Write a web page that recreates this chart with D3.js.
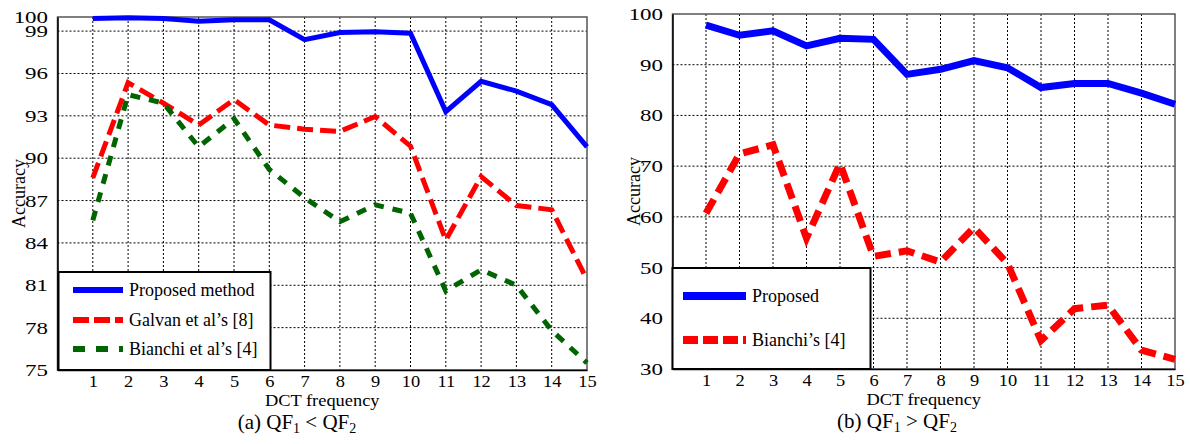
<!DOCTYPE html>
<html>
<head>
<meta charset="utf-8">
<script src="https://cdn.jsdelivr.net/npm/d3@7"></script>
<style>
    body { margin: 0; background: #fff; }
    svg text { font-family: "Liberation Serif", "Times New Roman", "DejaVu Serif", serif; fill: #000; }
</style>
</head>
<body>
<svg id="chart" width="1190" height="444"></svg>
<script>
// DCT frequency index (x axis)
const freqs = [1, 2, 3, 4, 5, 6, 7, 8, 9, 10, 11, 12, 13, 14, 15];

// (a) QF1 < QF2
const leftProposed = [99.9, 99.95, 99.9, 99.7, 99.8, 99.8, 98.4, 98.9, 98.95, 98.85, 93.3, 95.45, 94.75, 93.8, 90.8];
const leftGalvan = [88.6, 95.35, 93.9, 92.35, 94.15, 92.35, 92.05, 91.9, 92.95, 90.85, 84.2, 88.7, 86.65, 86.35, 81.4];
const leftBianchi = [85.6, 94.5, 93.9, 90.8, 92.8, 89.2, 87.2, 85.5, 86.7, 86.1, 80.6, 82.1, 81.0, 77.8, 75.5];
const leftYTicks = [75, 78, 81, 84, 87, 90, 93, 96, 99, 100];

// (b) QF1 > QF2
const rightProposed = [97.8, 95.8, 96.7, 93.7, 95.2, 95.0, 88.1, 89.1, 90.8, 89.4, 85.5, 86.3, 86.3, 84.4, 82.2];
const rightBianchi = [60.7, 72.4, 74.2, 55.8, 70.5, 52.2, 53.3, 51.1, 57.9, 50.8, 35.6, 41.9, 42.6, 33.7, 31.9];
const rightYTicks = [30, 40, 50, 60, 70, 80, 90, 100];

const svg = d3.select("#chart");

function drawPanel(opt) {
    const x = d3.scaleLinear().domain([0, 15]).range([opt.left, opt.right]);
    const y = d3.scaleLinear().domain(opt.yDomain).range([opt.bottom, opt.top]);
    const g = svg.append("g");

    // dotted grid
    g.append("g").selectAll("line")
        .data(freqs.filter(d => d < 15))
        .join("line")
        .attr("x1", d => x(d)).attr("x2", d => x(d))
        .attr("y1", opt.top).attr("y2", opt.bottom)
        .attr("stroke", "#000").attr("stroke-width", 1)
        .attr("stroke-dasharray", "2,2");
    g.append("g").selectAll("line")
        .data(opt.yTicks.filter(d => d > opt.yDomain[0] && d < opt.yDomain[1]))
        .join("line")
        .attr("x1", opt.left).attr("x2", opt.right)
        .attr("y1", d => y(d)).attr("y2", d => y(d))
        .attr("stroke", "#000").attr("stroke-width", 1)
        .attr("stroke-dasharray", "2,2");

    // frame
    g.append("rect")
        .attr("x", opt.left).attr("y", opt.top)
        .attr("width", opt.right - opt.left).attr("height", opt.bottom - opt.top)
        .attr("fill", "none").attr("stroke", "#555").attr("stroke-width", 1.5);

    // axes (labels only)
    const axB = g.append("g")
        .attr("transform", "translate(0," + opt.bottom + ")")
        .call(d3.axisBottom(x).tickValues(freqs).tickSize(0).tickPadding(6));
    axB.attr("font-family", null);
    axB.select(".domain").attr("stroke", "#000").attr("stroke-width", 1.5);
    axB.selectAll("text").attr("font-size", 16).attr("transform", "scale(1.15,1)");

    const axL = g.append("g")
        .attr("transform", "translate(" + opt.left + ",0)")
        .call(d3.axisLeft(y).tickValues(opt.yTicks).tickSize(0).tickPadding(7));
    axL.attr("font-family", null);
    axL.select(".domain").attr("stroke", "#000").attr("stroke-width", 1.5);
    axL.selectAll("text").attr("font-size", 17).attr("transform", "scale(1.35,1)");

    // lines
    const line = d3.line().x((d, i) => x(freqs[i])).y(d => y(d));
    opt.series.forEach(s => {
        g.append("path")
            .datum(s.values)
            .attr("d", line)
            .attr("fill", "none")
            .attr("stroke", s.color)
            .attr("stroke-width", s.width)
            .attr("stroke-dasharray", s.dash)
            .attr("stroke-linejoin", "miter");
    });

    // axis titles
    const cx = (opt.left + opt.right) / 2;
    g.append("text")
        .attr("x", cx)
        .attr("y", opt.bottom + 36)
        .attr("text-anchor", "middle")
        .attr("font-size", 16)
        .attr("transform", "translate(" + (-0.15 * cx) + ",0) scale(1.15,1)")
        .text("DCT frequency");
    g.append("text")
        .attr("transform", "translate(" + (opt.left - 33) + "," + ((opt.top + opt.bottom) / 2) + ") rotate(-90)")
        .attr("text-anchor", "middle")
        .attr("font-size", 18)
        .text("Accuracy");

    // caption
    const cap = g.append("text")
        .attr("x", opt.captionX)
        .attr("y", opt.bottom + 59)
        .attr("text-anchor", "middle")
        .attr("font-size", 21);
    cap.append("tspan").text(opt.caption[0] + " QF");
    cap.append("tspan").attr("font-size", 14).attr("dy", 4).text("1");
    cap.append("tspan").attr("dy", -4).text("\u2005" + opt.caption[1] + "\u2005QF");
    cap.append("tspan").attr("font-size", 14).attr("dy", 4).text("2");

    // legend
    const lg = opt.legend;
    g.append("rect")
        .attr("x", lg.x).attr("y", lg.y)
        .attr("width", lg.w).attr("height", opt.bottom - lg.y)
        .attr("fill", "#fff").attr("stroke", "#000").attr("stroke-width", 2);
    opt.series.forEach((s, i) => {
        const ry = lg.rows[i];
        g.append("line")
            .attr("x1", lg.lineX[0]).attr("x2", lg.lineX[1])
            .attr("y1", ry).attr("y2", ry)
            .attr("stroke", s.color)
            .attr("stroke-width", s.legendWidth)
            .attr("stroke-dasharray", s.legendDash);
        g.append("text")
            .attr("x", lg.textX).attr("y", ry)
            .attr("dominant-baseline", "central")
            .attr("font-size", 18)
            .text(s.name);
    });
}

drawPanel({
    left: 57.5, right: 587, top: 17, bottom: 370,
    yDomain: [75, 100], yTicks: leftYTicks,
    caption: ["(a)", "<"], captionX: 297,
    series: [
        { name: "Proposed method", values: leftProposed, color: "#0000ff", width: 5, dash: null, legendWidth: 6, legendDash: null },
        { name: "Galvan et al\u2019s [8]", values: leftGalvan, color: "#ff0000", width: 5, dash: "16,7", legendWidth: 6, legendDash: "16,5" },
        { name: "Bianchi et al\u2019s [4]", values: leftBianchi, color: "#006400", width: 5, dash: "10,9", legendWidth: 6, legendDash: "12,11" }
    ],
    legend: { x: 58.5, y: 272, w: 212, rows: [290, 320, 349], lineX: [73, 123], textX: 129 }
});

drawPanel({
    left: 672.5, right: 1175, top: 14, bottom: 369,
    yDomain: [30, 100], yTicks: rightYTicks,
    caption: ["(b)", ">"], captionX: 897,
    series: [
        { name: "Proposed", values: rightProposed, color: "#0000ff", width: 7, dash: null, legendWidth: 8, legendDash: null },
        { name: "Bianchi\u2019s [4]", values: rightBianchi, color: "#ff0000", width: 7, dash: "16,8", legendWidth: 8, legendDash: "15,5" }
    ],
    legend: { x: 672.5, y: 268, w: 198, rows: [296, 340], lineX: [683, 746], textX: 752 }
});
</script>
</body>
</html>
